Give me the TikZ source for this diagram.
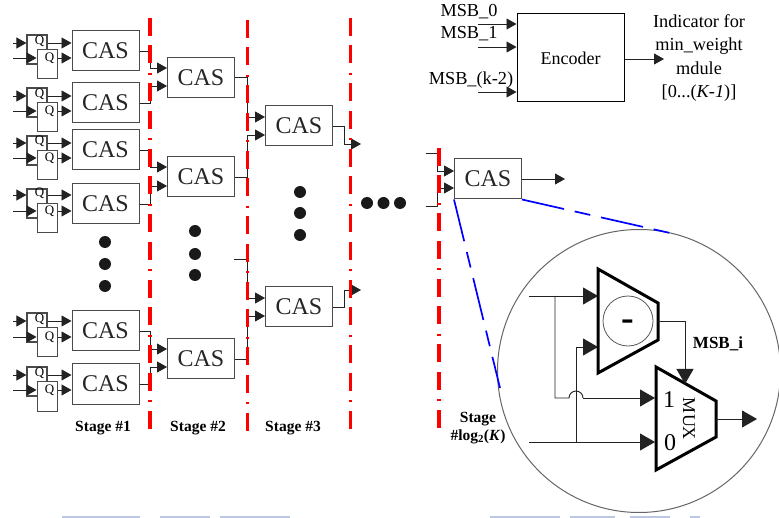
\documentclass[tikz,border=0pt]{standalone}
\usepackage{fontspec}
\setmainfont{Liberation Serif}
\usetikzlibrary{arrows.meta,calc}
\definecolor{wirec}{HTML}{222222}
\definecolor{boxc}{HTML}{4A4A4A}
\definecolor{bandc}{HTML}{BCC8E2}
\tikzset{
  casbox/.style={draw=boxc,line width=1pt,fill=white,minimum width=67pt,minimum height=40pt,inner sep=0pt,font=\fontsize{24}{24}\selectfont,text=black!85},
  qback/.style={draw=boxc,line width=1.2pt,fill=white,minimum width=20pt,minimum height=29pt,inner sep=0pt},
  qfront/.style={draw=boxc,line width=1pt,fill=white,minimum width=20pt,minimum height=29pt,inner sep=0pt},
  qlab/.style={inner sep=0pt,font=\fontsize{13}{13}\selectfont},
  wire/.style={draw=wirec,line width=.9pt},
  arr/.style={wire,-{Triangle[length=10pt,width=11pt]}},
  bigarr/.style={wire,-{Triangle[length=15pt,width=17pt]}},
  redcut/.style={draw=red,line width=3.2pt,dash pattern=on 18pt off 9.5pt on 18pt off 9.5pt on 2pt off 8.5pt},
  bluecut/.style={draw=blue,line width=1.7pt,dash pattern=on 43pt off 11pt on 16pt off 11pt},
  dotn/.style={circle,fill=black!90,minimum size=12pt,inner sep=0pt},
  stagelab/.style={inner sep=0pt,font=\fontsize{15.5}{18}\selectfont\bfseries,align=center},
  enctext/.style={inner sep=0pt,font=\fontsize{18.3}{23.5}\selectfont,align=center},
  trap/.style={draw=black,line width=3pt,line join=miter,fill=white},
}
\begin{document}
\begin{tikzpicture}[x=1pt,y=-1pt]
\useasboundingbox (0,0) rectangle (779,518);
\fill[white] (0,0) rectangle (779,518);
% faint band along the lower edge
\foreach \a/\b in {62/75,75/140,160/210,220/290,490/560,570/615,630/670,690/700}
  \fill[bandc] (\a,516.2) rectangle (\b,518);

% first stage: registers and CAS boxes
\foreach \i/\bt/\by/\a/\c in {1/35/51/43/58,2/88/103/96/111,3/136/150/143/158,4/189/204/195/211,5/313/331/321/337,6/367/384/375/390}{
  \node[casbox] (c\i) at (105.5,\by) {CAS};
  \node[qback] (qb\i) at (37,\bt+14.5) {};
  \node[qfront] (qf\i) at (47,\bt+29.5) {};
  \node[qlab] (qbl\i) at (39.5,\a-2) {Q};
  \node[qlab] (qfl\i) at (49.5,\c) {Q};
  \coordinate (ia\i) at (13,\a);
  \coordinate (ic\i) at (13,\c);
  \draw[arr] (ia\i) -- (qb\i.west |- ia\i);
  \draw[arr] (ic\i) -- (qf\i.west |- ic\i);
  \draw[arr] (qb\i.east |- ia\i) -- (c\i.west |- ia\i);
  \draw[arr] (qf\i.east |- ic\i) -- (c\i.west |- ic\i);
}

% second stage
\node[casbox] (s2a) at (201,77.5) {CAS};
\node[casbox] (s2b) at (201,177) {CAS};
\node[casbox] (s2c) at (201,359) {CAS};
\coordinate (j1) at (150,68);  \coordinate (j2) at (150,86);
\coordinate (j3) at (150,167); \coordinate (j4) at (150,186);
\coordinate (j5) at (150,349); \coordinate (j6) at (150,367);
\draw[arr] (c1.east) -| (j1) -- (s2a.west |- j1);
\draw[arr] (c2.east) -| (j2) -- (s2a.west |- j2);
\draw[arr] (c3.east) -| (j3) -- (s2b.west |- j3);
\draw[arr] (c4.east) -| (j4) -- (s2b.west |- j4);
\draw[arr] (c5.east) -| (j5) -- (s2c.west |- j5);
\draw[arr] (c6.east) -| (j6) -- (s2c.west |- j6);

% third stage
\node[casbox] (s3a) at (299,126) {CAS};
\node[casbox] (s3b) at (299,307) {CAS};
\coordinate (k1) at (247.5,117); \coordinate (k2) at (247.5,135);
\coordinate (k3) at (247.5,298); \coordinate (k4) at (247.5,316);
\coordinate (k0) at (234,259);
\draw[arr] (s2a.east) -| (k1) -- (s3a.west |- k1);
\draw[arr] (s2b.east) -| (k2) -- (s3a.west |- k2);
\draw[arr] (k0) -| (k3) -- (s3b.west |- k3);
\draw[arr] (s2c.east) -| (k4) -- (s3b.west |- k4);
\coordinate (o1) at (344,144); \coordinate (o1e) at (361,144);
\coordinate (o2) at (344,290); \coordinate (o2e) at (361,290);
\draw[arr] (s3a.east) -| (o1) -- (o1e);
\draw[arr] (s3b.east) -| (o2) -- (o2e);

% last stage
\node[casbox] (last) at (488,179) {CAS};
\coordinate (m1) at (426,153); \coordinate (m1b) at (437,171);
\coordinate (m2) at (426,206); \coordinate (m2b) at (437,188);
\coordinate (lastout) at (565,179);
\draw[arr] (m1) -| (m1b) -- (last.west |- m1b);
\draw[arr] (m2) -| (m2b) -- (last.west |- m2b);
\draw[arr] (last.east) -- (lastout);

% cut lines
\coordinate (r1t) at (150,18);    \coordinate (r1b) at (150,430);
\coordinate (r2t) at (247.5,20);  \coordinate (r2b) at (247.5,432);
\coordinate (r3t) at (350.5,18);  \coordinate (r3b) at (350.5,430);
\coordinate (r4t) at (439,148);   \coordinate (r4b) at (439,430);
\draw[redcut] (r1t) -- (r1b);
\draw[redcut] (r2t) -- (r2b);
\draw[redcut] (r3t) -- (r3b);
\draw[redcut] (r4t) -- (r4b);

% ellipsis dots
\foreach \n/\x/\y in {a/105/242,b/105/264,c/105/286,d/195/231,e/195/254,f/195/275,g/300/192,h/300/213,k/300/235,m/367/203,o/383.5/203,p/400/203}
  \node[dotn] (dot\n) at (\x,\y) {};

% stage labels
\node[stagelab] (st1) at (103,428) {Stage \#1};
\node[stagelab] (st2) at (198,428) {Stage \#2};
\node[stagelab] (st3) at (293,428) {Stage \#3};
\node[stagelab] (st4) at (478,428) {Stage\\\#log\textsubscript{2}(\textit{K})};

% encoder
\node[draw=black,line width=1pt,minimum width=107pt,minimum height=88pt,inner sep=0pt,font=\fontsize{18}{18}\selectfont] (enc) at (570.5,58) {Encoder};
\coordinate (e0) at (478,24); \coordinate (e1) at (478,47); \coordinate (e2) at (478,92);
\draw[arr] (e0) -- (enc.west |- e0);
\draw[arr] (e1) -- (enc.west |- e1);
\draw[arr] (e2) -- (enc.west |- e2);
\node[enctext] (l0) at (469,12) {MSB\_0};
\node[enctext] (l1) at (469,34) {MSB\_1};
\node[enctext] (l2) at (471,80) {MSB\_(k-2)};
\coordinate (eo) at (664,59);
\draw[arr] (enc.east |- eo) -- (eo);
\node[enctext] (ind) at (699,58) {Indicator for\\min\_weight\\mdule\\{}[0...(\textit{K-1})]};

% zoom circle and blue dashed lines
\node[circle,draw=black!60,line width=1pt,minimum size=283pt,inner sep=0pt] (zoomc) at (639,371) {};
\coordinate (b1) at (500,388); \coordinate (b2) at (670,233);
\draw[bluecut] (last.south west) -- (b1);
\draw[bluecut] (last.south east) -- (b2);

% inside circle
\coordinate (sA) at (598,269); \coordinate (sB) at (658,303);
\coordinate (sC) at (658,340); \coordinate (sD) at (598,373);
\coordinate (mA) at (656,367); \coordinate (mB) at (716,401);
\coordinate (mC) at (716,437); \coordinate (mD) at (656,470);
\coordinate (in1) at (529,296); \coordinate (in2) at (529,442);
\coordinate (n1) at (555,296);  \coordinate (n2) at (576,442);
\coordinate (up) at (576,347);  \coordinate (low) at (555,398);
\coordinate (bumpL) at (569,398); \coordinate (bumpR) at (583,398);
\coordinate (t1) at (598,296); \coordinate (t2) at (598,347);
\coordinate (t3) at (655,398); \coordinate (t4) at (655,442);
\coordinate (sout) at (658,321); \coordinate (selb) at (685,321); \coordinate (sel) at (685,384);
\coordinate (mout) at (716,419); \coordinate (moute) at (757,419);

\draw[bigarr] (in1) -- (t1);
\draw[wire] (n1) |- (bumpL) arc[start angle=180,end angle=0,radius=7pt] -- (bumpR);
\draw[bigarr] (bumpR) -- (t3);
\draw[bigarr] (in2) -- (t4);
\draw[wire] (n2) -- (up);
\draw[bigarr] (up) -- (t2);

\draw[trap] (sA) -- (sB) -- (sC) -- (sD) -- cycle;
\node[circle,draw=black!65,line width=.8pt,minimum size=50pt,inner sep=0pt] (subc) at (628,321) {};
\node[inner sep=0pt,font=\fontsize{38}{38}\selectfont\bfseries] (minus) at (628,325) {-};
\draw[trap] (mA) -- (mB) -- (mC) -- (mD) -- cycle;
\node[inner sep=0pt,font=\fontsize{24}{24}\selectfont] (one) at (669,400) {1};
\node[inner sep=0pt,font=\fontsize{24}{24}\selectfont] (zero) at (670,443) {0};
\node[inner sep=0pt,rotate=-90,font=\fontsize{18}{18}\selectfont] (muxt) at (689,419) {MUX};
\node[inner sep=0pt,font=\fontsize{17}{17}\selectfont\bfseries] (msbi) at (718,344) {MSB\_i};
\draw[wire] (sout) -- (selb);
\draw[bigarr] (selb) -- (sel);
\draw[bigarr] (mout) -- (moute);
\end{tikzpicture}
\end{document}
